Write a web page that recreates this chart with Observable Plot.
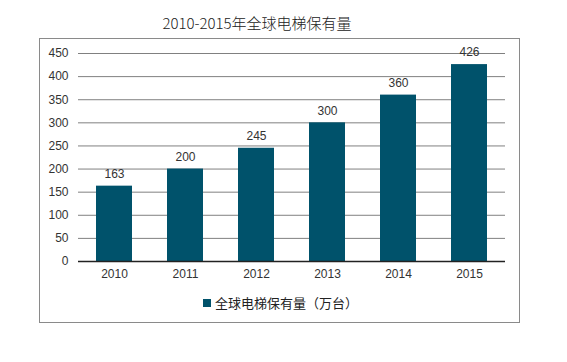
<!DOCTYPE html>
<html>
<head>
<meta charset="utf-8">
<script src="https://cdn.jsdelivr.net/npm/d3@7"></script>
<script src="https://cdn.jsdelivr.net/npm/@observablehq/plot@0.6"></script>
<style>
  html, body { margin: 0; padding: 0; background: #fff; }
  #wrap { position: relative; width: 567px; height: 362px; overflow: hidden; }
  #title { position: absolute; left: 0; top: 12px; width: 514px; text-align: center;
           font-family: "Noto Sans CJK SC", sans-serif; font-weight: 300; font-size: 15px; color: #222; line-height: 22px; }
  #box { position: absolute; left: 39px; top: 38px; width: 479px; height: 283px; border: 1px solid #8a8a8a; }
  #chart { position: absolute; left: 0; top: 0; }
  #legend { position: absolute; left: 203px; top: 294px; font-family: "Noto Sans CJK SC", sans-serif;
            font-size: 13px; color: #222; line-height: 18px; display: flex; align-items: center; }
  #legend .sw { width: 8px; height: 8px; background: #00526B; margin-right: 4px; }
</style>
</head>
<body>
<div id="wrap">
  <div id="title">2010-2015年全球电梯保有量</div>
  <div id="box"></div>
  <div id="chart"></div>
  <div id="legend"><span class="sw"></span><span>全球电梯保有量（万台）</span></div>
</div>
<script>
const years = ["2010", "2011", "2012", "2013", "2014", "2015"];
const values = [163, 200, 245, 300, 360, 426];
const yTicks = [0, 50, 100, 150, 200, 250, 300, 350, 400, 450];

const data = years.map((y, i) => ({year: y, value: values[i]}));

const chart = Plot.plot({
  width: 567,
  height: 290,
  marginTop: 53,
  marginBottom: 29,
  marginLeft: 78,
  marginRight: 62,
  style: {fontFamily: "Liberation Sans, Arial, sans-serif", fontSize: "12px", color: "#333", background: "transparent"},
  x: {domain: years, paddingInner: 0.5, paddingOuter: 0.25, label: null},
  y: {domain: [0, 450], label: null},
  marks: [
    Plot.gridY(yTicks, {stroke: "#808080", strokeOpacity: 1, strokeWidth: 1}),
    Plot.barY(data, {x: "year", y: "value", fill: "#00526B"}),
    Plot.ruleY([0], {stroke: "#222", strokeWidth: 1.3}),
    Plot.axisY(yTicks, {tickSize: 0, tickPadding: 10, label: null, fontSize: 12, fill: "#333"}),
    Plot.axisX({tickSize: 0, tickPadding: 8, label: null, fontSize: 12, fill: "#333"}),
    Plot.text(data, {x: "year", y: "value", text: d => String(d.value), dy: -12, lineAnchor: "middle", fontSize: 12, fill: "#333"})
  ]
});
document.getElementById("chart").appendChild(chart);
</script>
</body>
</html>
